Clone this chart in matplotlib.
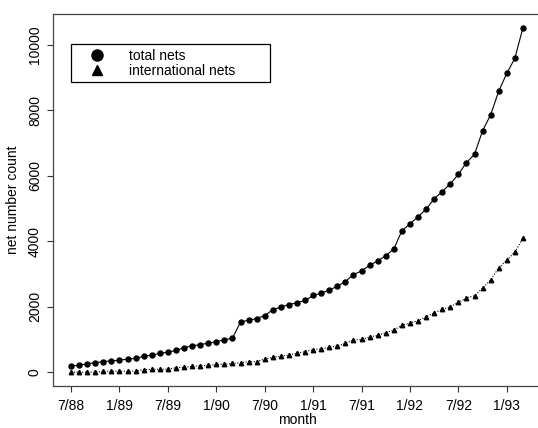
import numpy as np
import matplotlib.pyplot as plt
from matplotlib.lines import Line2D

plt.rcParams['font.family'] = ['Liberation Sans', 'DejaVu Sans']

# monthly counts, 7/88 .. 3/93
total_nets = [178, 217, 254, 294, 324, 350, 365, 400, 425, 481, 527, 573, 613, 665,
              750, 805, 840, 890, 928, 994, 1034, 1536, 1587, 1638, 1729, 1907, 1993,
              2064, 2120, 2190, 2343, 2414, 2505, 2627, 2768, 2981, 3093, 3265, 3397,
              3559, 3762, 4320, 4533, 4746, 4979, 5294, 5517, 5750, 6044, 6399, 6652,
              7372, 7859, 8579, 9127, 9583, 10516]
intl_nets = [0, 0, 0, 5, 25, 30, 30, 30, 35, 76, 91, 86, 96, 137, 152, 177, 198, 208,
             238, 243, 269, 290, 320, 325, 400, 456, 492, 527, 578, 629, 690, 710, 761,
             801, 882, 984, 1004, 1075, 1126, 1207, 1288, 1430, 1501, 1572, 1694, 1815,
             1917, 2003, 2130, 2267, 2333, 2566, 2819, 3184, 3417, 3671, 4087]
month_ticks = [0, 6, 12, 18, 24, 30, 36, 42, 48, 54]
month_labels = ["7/88", "1/89", "7/89", "1/90", "7/90", "1/91", "7/91", "1/92", "7/92", "1/93"]
y_ticks = [0, 2000, 4000, 6000, 8000, 10000]

W, H = 538, 428
fig = plt.figure(figsize=(W/100, H/100), dpi=100)
# plot region: left 53px, top 14px, bottom 386px, right edge just past the picture
ax = fig.add_axes([53/W, (H-386)/H, (541-53)/W, (386-14)/H])

months = np.arange(len(total_nets))
ax.plot(months, total_nets, color="black", lw=0.8, marker="o", ms=3.6, mec="black", mfc="black")
ax.plot(months, intl_nets, color="black", lw=0.8, ls=(0, (1, 1.5)), marker="^", ms=3.2,
        mec="black", mfc="black")

n = len(total_nets) - 1
ax.set_xlim(-0.04*n, n*1.04)
ymax = max(total_nets)
ax.set_ylim(-0.04*ymax, ymax*1.04)

ax.set_xticks(month_ticks)
ax.set_xticklabels(month_labels)
ax.set_yticks(y_ticks)
ax.set_yticklabels([str(v) for v in y_ticks], rotation=90, va="center")
ax.tick_params(axis="both", labelsize=10, length=4, width=0.8, color="#333333")
ax.tick_params(axis="x", pad=5)
ax.tick_params(axis="y", pad=4)
for s in ax.spines.values():
    s.set_color("#444444")
    s.set_linewidth(0.9)
ax.spines["right"].set_visible(False)

ax.set_xlabel("month", fontsize=10, labelpad=0)
ax.set_ylabel("net number count", fontsize=10, labelpad=6)

handles = [Line2D([], [], ls="none", marker="o", ms=8, color="black"),
           Line2D([], [], ls="none", marker="^", ms=7, color="black")]
leg = ax.legend(handles, ["total nets", "international nets"], loc="upper left",
                bbox_to_anchor=(71/W, 1-85/H, 199/W, 41/H), bbox_transform=fig.transFigure,
                mode="expand", borderaxespad=0, fancybox=False, edgecolor="black",
                framealpha=1, fontsize=10, handlelength=3, handletextpad=0.8,
                labelspacing=0.05, borderpad=0.35)
leg.get_frame().set_linewidth(0.9)

fig.savefig("out.png", dpi=100)
